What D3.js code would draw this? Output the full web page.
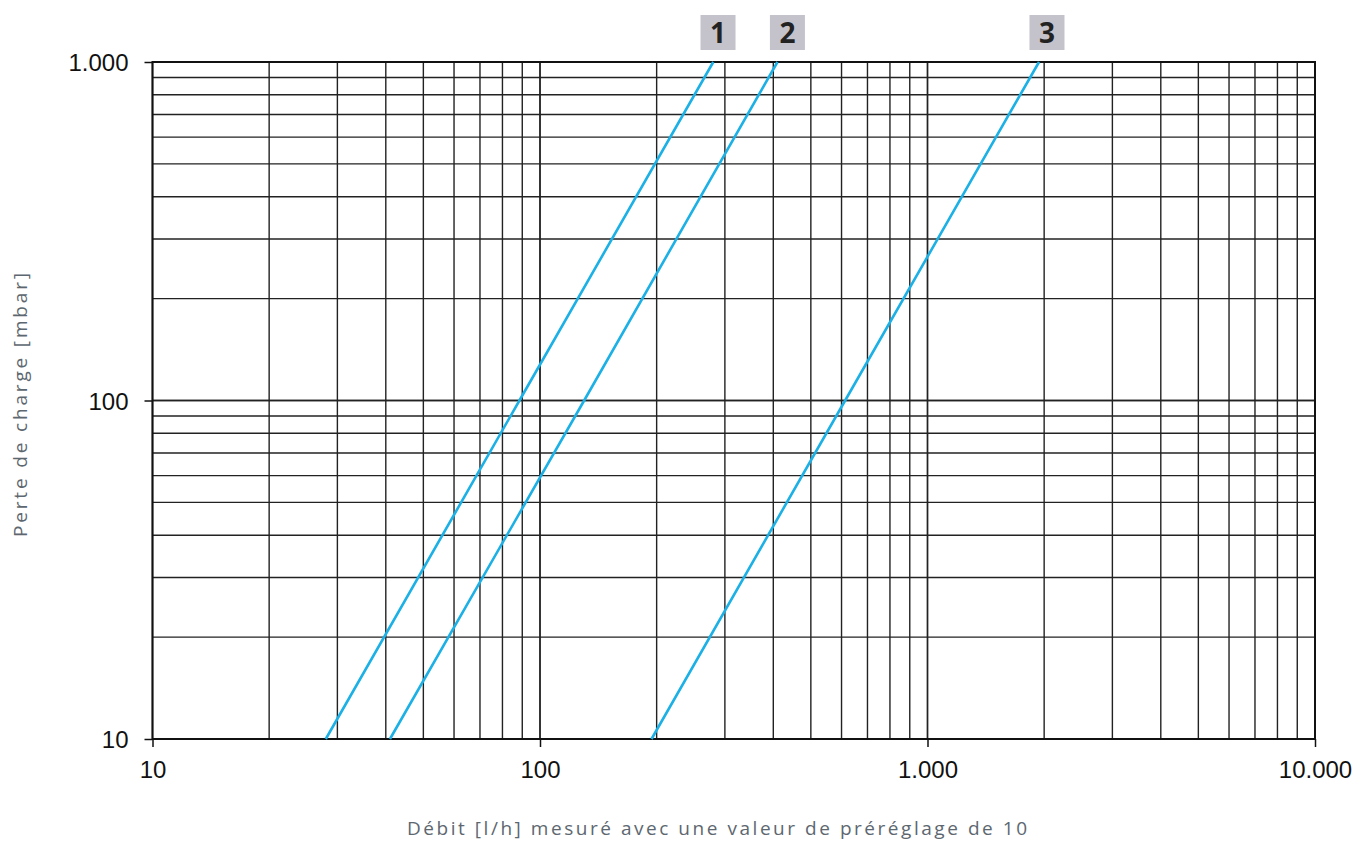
<!DOCTYPE html>
<html><head><meta charset="utf-8">
<script src="https://cdn.jsdelivr.net/npm/d3@7"></script>
<style>body{margin:0;background:#fff}</style>
</head><body>
<svg id="c" width="1357" height="843"></svg>
<script>
const pressures = [10, 100, 1000];           // mbar
const series1 = [28, 88.5, 280];             // l/h
const series2 = [41, 130, 410];
const series3 = [194, 613, 1940];
const seriesNames = ["1", "2", "3"];
const labelFlows = [288, 435, 2034];         // x position (l/h) of the series tags
const xTicks = [10, 100, 1000, 10000];
const xTickLabels = ["10", "100", "1.000", "10.000"];
const yTicks = [10, 100, 1000];
const yTickLabels = ["10", "100", "1.000"];
const xTitle = "Débit [l/h] mesuré avec une valeur de préréglage de 10";
const yTitle = "Perte de charge [mbar]";

const svg = d3.select("#c");
const x = d3.scaleLog().domain([10, 10000]).range([152.5, 1315]);
const y = d3.scaleLog().domain([10, 1000]).range([739, 62]);

const xGrid = [], yGrid = [];
for (let d = 10; d < 10000; d *= 10) for (let k = 1; k <= 10; k++) xGrid.push(d * k);
for (let d = 10; d < 1000; d *= 10) for (let k = 1; k <= 10; k++) yGrid.push(d * k);

const g = svg.append("g");
g.selectAll("line.vx").data(xGrid).join("line")
  .attr("x1", d => x(d)).attr("x2", d => x(d))
  .attr("y1", y(1000)).attr("y2", y(10))
  .attr("stroke", "#222").attr("stroke-width", 1.4);
g.selectAll("line.hy").data(yGrid).join("line")
  .attr("y1", d => y(d)).attr("y2", d => y(d))
  .attr("x1", x(10)).attr("x2", x(10000))
  .attr("stroke", "#222").attr("stroke-width", 1.4);

g.append("rect").attr("x", x(10)).attr("y", y(1000))
  .attr("width", x(10000) - x(10)).attr("height", y(10) - y(1000))
  .attr("fill", "none").attr("stroke", "#111").attr("stroke-width", 2);

const xAxis = d3.axisBottom(x).tickValues(xTicks).tickSize(8)
  .tickFormat((d, i) => xTickLabels[i]).tickPadding(14);
const yAxis = d3.axisLeft(y).tickValues(yTicks).tickSize(8)
  .tickFormat((d, i) => yTickLabels[i]).tickPadding(16);
const gx = svg.append("g").attr("transform", `translate(0,${y(10)})`).call(xAxis);
const gy = svg.append("g").attr("transform", `translate(${x(10)},0)`).call(yAxis);
[gx, gy].forEach(a => {
  a.select(".domain").remove();
  a.selectAll(".tick line").attr("stroke", "#111").attr("stroke-width", 1.5);
  a.selectAll(".tick text").attr("fill", "#111")
    .style("font-family", "'Liberation Sans', Arial, sans-serif").style("font-size", "24px");
});
gy.selectAll(".tick text").attr("dy", "0.36em");

const data = [series1, series2, series3];
const lineGen = d3.line().x(d => x(d[0])).y(d => y(d[1]));
const lg = svg.append("g");
data.forEach((s, i) => {
  const pts = s.map((q, j) => [q, pressures[j]]);
  lg.append("path").datum(pts).attr("d", lineGen)
    .attr("fill", "none").attr("stroke", "#1bb0e6").attr("stroke-width", 2.6);
  const cx = x(labelFlows[i]);
  lg.append("rect").attr("x", cx - 17.5).attr("y", 15).attr("width", 35).attr("height", 35)
    .attr("fill", "#c4c2cb");
  lg.append("text").attr("x", cx).attr("y", 43).attr("text-anchor", "middle")
    .style("font-family", "'Open Sans', sans-serif").style("font-weight", "700")
    .style("font-size", "28px").attr("fill", "#222").text(seriesNames[i]);
});

svg.append("text").attr("x", 717).attr("y", 835).attr("text-anchor", "middle")
  .attr("textLength", 620).attr("lengthAdjust", "spacing")
  .style("font-family", "'Open Sans', sans-serif").style("font-size", "19px")
  .attr("fill", "#5d6770").text(xTitle);
svg.append("text").attr("transform", "translate(27,405) rotate(-90)").attr("text-anchor", "middle")
  .attr("textLength", 264).attr("lengthAdjust", "spacing")
  .style("font-family", "'Open Sans', sans-serif").style("font-size", "19px")
  .attr("fill", "#5d6770").text(yTitle);
</script>
</body></html>
